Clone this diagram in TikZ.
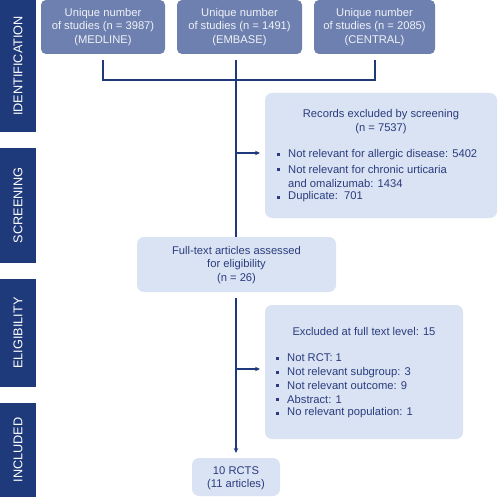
\documentclass[tikz,border=0pt]{standalone}
\usepackage{fontspec}
\setmainfont{Liberation Sans}
\usetikzlibrary{arrows.meta}
\definecolor{navy}{HTML}{1F3A7B}
\definecolor{slate}{HTML}{6D80B0}
\definecolor{pale}{HTML}{DAE3F3}
\definecolor{ink}{HTML}{2B3C7E}
\begin{document}
\begin{tikzpicture}[x=1pt,y=-1pt,
  side/.style={fill=navy,draw=none,inner sep=0pt,minimum width=36pt},
  sidetext/.style={text=white,font=\fontsize{12.7}{14}\selectfont,rotate=90,inner sep=0pt},
  topbox/.style={fill=slate,draw=none,rounded corners=5pt,inner sep=0pt,minimum height=54pt},
  palebox/.style={fill=pale,draw=none,rounded corners=7pt,inner sep=0pt},
  toptext/.style={text=white!90!slate,font=\fontsize{11.2}{13.5}\selectfont,align=center,inner sep=0pt},
  paletext/.style={text=ink,font=\fontsize{11.2}{13.5}\selectfont,align=center,inner sep=0pt},
  item/.style={text=ink,font=\fontsize{11.2}{13.7}\selectfont,align=left,anchor=west,inner sep=0pt},
  bul/.style={fill=ink,draw=none,minimum size=3pt,inner sep=0pt},
  conn/.style={draw=navy,line width=1.4pt},
  arr/.style={conn,-{Stealth[length=5pt,width=4.5pt]}}
]
\useasboundingbox (0,0) rectangle (500,497);
% side bars
\node[side,minimum height=132pt] (s1) at (18,66) {};
\node[side,minimum height=115pt] (s2) at (18,205.5) {};
\node[side,minimum height=108pt] (s3) at (18,333) {};
\node[side,minimum height=94pt] (s4) at (18,450) {};
\node[sidetext] (t1) at (s1.center) {IDENTIFICATION};
\node[sidetext] (t2) at (s2.center) {SCREENING};
\node[sidetext] (t3) at (s3.center) {ELIGIBILITY};
\node[sidetext] (t4) at (s4.center) {INCLUDED};
% top boxes
\node[topbox,minimum width=124pt] (med) at (103,27) {};
\node[topbox,minimum width=125pt] (emb) at (239.5,27) {};
\node[topbox,minimum width=121pt] (cen) at (374.5,27) {};
\node[toptext] (medt) at (103,27) {Unique number\\of studies (n = 3987)\\(MEDLINE)};
\node[toptext] (embt) at (239.5,27) {Unique number\\of studies (n = 1491)\\(EMBASE)};
\node[toptext] (cent) at (374.5,27) {Unique number\\of studies (n = 2085)\\(CENTRAL)};
% pale boxes
\node[palebox,minimum width=232pt,minimum height=125pt] (rec) at (381,155.5) {};
\node[palebox,minimum width=199pt,minimum height=55pt] (full) at (236.5,264.5) {};
\node[palebox,minimum width=198pt,minimum height=134pt] (exc) at (364,372) {};
\node[palebox,minimum width=88pt,minimum height=38pt] (rct) at (236,477) {};
% texts in pale boxes
\node[paletext] (rect) at (381,121.5) {Records excluded by screening\\(n = 7537)};
\node[item] (r1) at (288,155) {Not relevant for allergic disease: 5402};
\node[item] (r2) at (288,176.5) {Not relevant for chronic urticaria\\and omalizumab: 1434};
\node[item] (r3) at (288,197) {Duplicate:\ \ 701};
\node[bul] (rb1) at (278,155) {};
\node[bul] (rb2) at (278,169.5) {};
\node[bul] (rb3) at (278,197) {};
\node[paletext] (fullt) at (236.5,265) {Full-text articles assessed\\for eligibility\\(n = 26)};
\node[paletext] (exct) at (364,331.5) {Excluded at full text level: 15};
\node[item] (e1) at (287,358) {Not RCT: 1};
\node[item] (e2) at (287,372.5) {Not relevant subgroup: 3};
\node[item] (e3) at (287,385.5) {Not relevant outcome: 9};
\node[item] (e4) at (287,399.5) {Abstract: 1};
\node[item] (e5) at (287,413) {No relevant population: 1};
\node[bul] (eb1) at (277,358) {};
\node[bul] (eb2) at (277,372.5) {};
\node[bul] (eb3) at (277,385.5) {};
\node[bul] (eb4) at (277,399.5) {};
\node[bul] (eb5) at (277,413) {};
\node[paletext] (rctt) at (236,478) {10 RCTS\\(11 articles)};
% connectors
\coordinate (m0) at (103,60);
\coordinate (c0) at (375,60);
\coordinate (e0) at (236,60);
\coordinate (jL) at (103,80);
\coordinate (jR) at (375,80);
\coordinate (b1) at (236,153);
\coordinate (a1) at (260,153);
\coordinate (f0) at (236,298);
\coordinate (b2) at (236,369);
\coordinate (a2) at (260,369);
\coordinate (a3) at (236,453);
\draw[conn] (m0) -- (jL) -- (jR) -- (c0);
\draw[conn] (e0) -- (full.north -| e0);
\draw[arr] (b1) -- (a1);
\draw[arr] (f0) -- (a3);
\draw[arr] (b2) -- (a2);
\end{tikzpicture}
\end{document}
